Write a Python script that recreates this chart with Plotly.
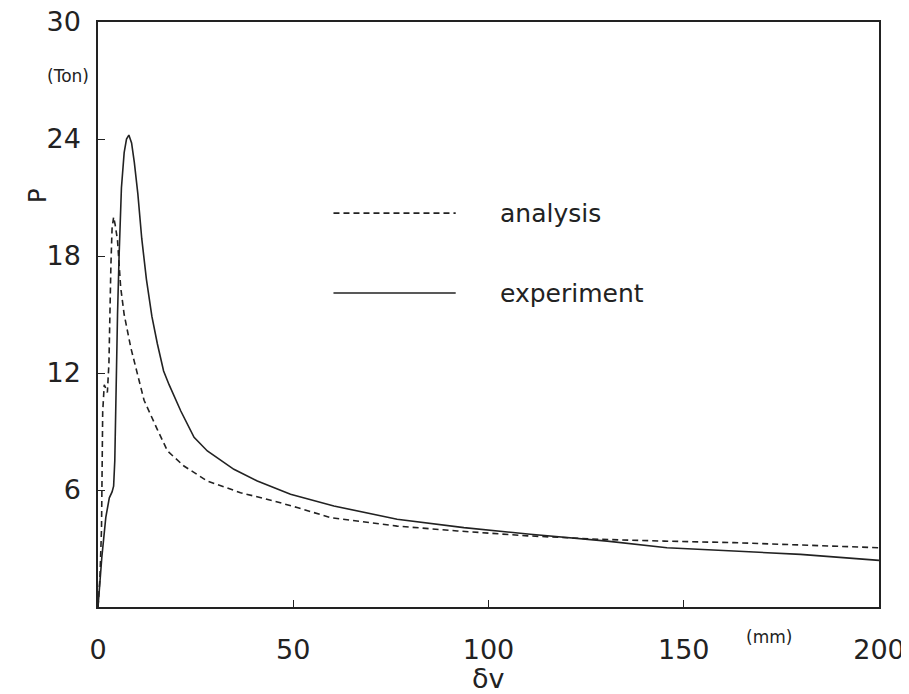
import plotly.graph_objects as go

# Experiment (solid)
exp_x = [0, 1.0, 2.0, 2.9, 3.6, 4.0, 4.3, 4.6, 5.0, 5.4, 6.0, 6.7, 7.3, 7.9, 8.6, 9.3,
         10.2, 11.2, 12.4, 13.8, 15.2, 16.8, 18.2, 21.2, 24.6, 28.0, 34.8, 40.8, 49.3,
         60.4, 76.6, 93.7, 110.7, 130.4, 145.7, 162.8, 179.9, 200]
exp_y = [0, 2.6, 4.6, 5.6, 5.9, 6.2, 7.5, 11.0, 15.0, 18.0, 21.5, 23.3, 24.0, 24.2, 23.8, 22.8,
         21.2, 18.9, 16.8, 14.9, 13.5, 12.1, 11.4, 10.05, 8.7, 8.0, 7.06, 6.46, 5.78,
         5.18, 4.5, 4.07, 3.73, 3.38, 3.04, 2.87, 2.7, 2.39]

# Analysis (dashed)
ana_x = [0, 0.5, 0.9, 1.0, 1.2, 1.6, 2.0, 2.4, 2.8, 3.0, 3.3, 3.6, 4.0, 4.4, 5.0, 5.8, 6.7,
         8.4, 10.1, 11.8, 15.2, 17.8, 22.0, 28.0, 36.5, 45, 51, 59.6, 76.6, 92, 110,
         128.6, 145, 162.8, 180, 200]
ana_y = [0, 1.5, 4, 7, 10, 11.4, 11.2, 11.0, 12.5, 15, 17.5, 19.4, 20.0, 19.6, 18.8, 16.4, 15.0,
         13.3, 11.9, 10.6, 9.1, 8.0, 7.23, 6.46, 5.86, 5.44, 5.1, 4.58, 4.15, 3.9, 3.65,
         3.47, 3.38, 3.3, 3.18, 3.04]

x_ticks = [0, 50, 100, 150, 200]
y_ticks = [6, 12, 18, 24, 30]

FONT = "DejaVu Sans"
INK = "#222222"

fig = go.Figure()
fig.add_trace(go.Scatter(x=ana_x, y=ana_y, mode="lines", name="analysis",
                         line=dict(color=INK, width=1.6, dash="6px,4px")))
fig.add_trace(go.Scatter(x=exp_x, y=exp_y, mode="lines", name="experiment",
                         line=dict(color=INK, width=1.6)))

# legend samples
fig.add_shape(type="line", x0=60.3, x1=91.6, y0=20.2, y1=20.2,
              line=dict(color=INK, width=1.6, dash="6px,4px"))
fig.add_shape(type="line", x0=60.3, x1=91.6, y0=16.1, y1=16.1,
              line=dict(color=INK, width=1.6))
fig.add_annotation(x=102.5, y=20.2, text="analysis", showarrow=False, xanchor="left",
                   font=dict(family=FONT, size=25, color=INK))
fig.add_annotation(x=102.5, y=16.1, text="experiment", showarrow=False, xanchor="left",
                   font=dict(family=FONT, size=25, color=INK))

# axis labels
def paper_text(x, y, text, size, angle=0):
    fig.add_annotation(xref="paper", yref="paper", x=x, y=y, text=text, textangle=angle,
                       xanchor="center", yanchor="middle", showarrow=False,
                       font=dict(family=FONT, size=size, color=INK))

paper_text(-0.0768, 0.7026, "P", 24, -90)
paper_text(-0.0384, 0.9077, "(Ton)", 17)
paper_text(0.859, -0.051, "(mm)", 17)
paper_text(0.5, -0.123, "δv", 27)

fig.update_layout(
    width=909, height=694,
    margin=dict(l=90, r=38, t=14, b=95, autoexpand=False),
    paper_bgcolor="white", plot_bgcolor="white",
    showlegend=False,
    font=dict(family=FONT, size=27, color=INK),
)
fig.update_xaxes(range=[0, 200], tickvals=x_ticks, ticktext=[str(v) for v in x_ticks],
                 showgrid=False, zeroline=False, showline=True, mirror=True,
                 linecolor=INK, linewidth=1.5, ticks="inside", ticklen=7,
                 tickcolor=INK, tickwidth=1.3, ticklabelstandoff=18, automargin=False,
                 ticklabeloverflow="allow")
fig.update_yaxes(range=[0, 30], tickvals=y_ticks, ticktext=[str(v) for v in y_ticks],
                 showgrid=False, zeroline=False, showline=True, mirror=True,
                 linecolor=INK, linewidth=1.5, ticks="inside", ticklen=7,
                 tickcolor=INK, tickwidth=1.3, ticklabelstandoff=10, automargin=False,
                 ticklabeloverflow="allow")

fig.write_html("out.html")
